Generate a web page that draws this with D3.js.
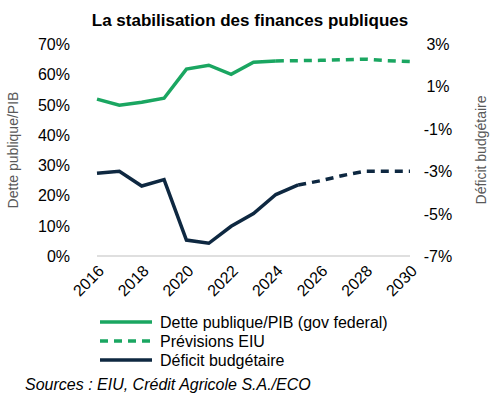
<!DOCTYPE html>
<html><head><meta charset="utf-8">
<script src="https://cdn.jsdelivr.net/npm/d3@7"></script>
<style>body{margin:0;background:#fff;font-family:Arial,"Liberation Sans",sans-serif}</style>
</head><body><svg id="c" width="500" height="407"></svg>
<script>
const years = [2016,2017,2018,2019,2020,2021,2022,2023,2024,2025,2026,2027,2028,2029,2030];
const debt = [51.8,49.8,50.8,52.1,61.7,63.0,60.0,64.0,64.4];
const debtYears = years.slice(0, 9);
const debtEiu = [64.4,64.5,64.6,64.8,65.0,64.5,64.2];
const debtEiuYears = years.slice(8);
const deficit = [-3.1,-3.0,-3.7,-3.4,-6.25,-6.4,-5.6,-5.0,-4.1,-3.65];
const deficitYears = years.slice(0, 10);
const deficitEiu = [-3.65,-3.45,-3.2,-3.0,-3.0,-3.0];
const deficitEiuYears = years.slice(9);
const leftTicks = [0,10,20,30,40,50,60,70];
const rightTicks = [3,1,-1,-3,-5,-7];
const xTicks = [2016,2018,2020,2022,2024,2026,2028,2030];

const svg = d3.select('#c');
const green = '#1aa661', navy = '#0e2841';
const x = d3.scaleLinear().domain([2016,2030]).range([97,410]);
const yL = d3.scaleLinear().domain([0,70]).range([256,44]);
const yR = d3.scaleLinear().domain([-7,3]).range([256,44]);

svg.append('text').attr('x',250).attr('y',26).attr('text-anchor','middle')
  .attr('font-size',17).attr('font-weight','bold').text('La stabilisation des finances publiques');

svg.append('line').attr('x1',x.range()[0]).attr('x2',x.range()[1]).attr('y1',256).attr('y2',256).attr('stroke','#bfbfbf');

svg.append('g').selectAll('text').data(leftTicks).join('text')
  .attr('x',70).attr('y',d=>yL(d)+6).attr('text-anchor','end').attr('font-size',16).text(d=>d+'%');
svg.append('g').selectAll('text').data(rightTicks).join('text')
  .attr('x',438).attr('y',d=>yR(d)+6).attr('text-anchor','middle').attr('font-size',16).text(d=>d+'%');
svg.append('g').selectAll('text').data(xTicks).join('text')
  .attr('transform',d=>`translate(${x(d)+8},${272}) rotate(-45)`).attr('text-anchor','end')
  .attr('font-size',16).text(d=>d);

svg.append('text').attr('transform','translate(18,150) rotate(-90)').attr('text-anchor','middle')
  .attr('font-size',14).attr('fill','#595959').text('Dette publique/PIB');
svg.append('text').attr('transform','translate(486,150) rotate(-90)').attr('text-anchor','middle')
  .attr('font-size',14).attr('fill','#595959').text('Déficit budgétaire');

function draw(xs, vs, y, color, dash) {
  svg.append('path').datum(vs.map((v,i)=>[xs[i],v]))
    .attr('d', d3.line().x(d=>x(d[0])).y(d=>y(d[1])))
    .attr('fill','none').attr('stroke',color).attr('stroke-width',3.5)
    .attr('stroke-dasharray', dash || null);
}
draw(debtYears, debt, yL, green);
draw(debtEiuYears, debtEiu, yL, green, '8,6');
draw(deficitYears, deficit, yR, navy);
draw(deficitEiuYears, deficitEiu, yR, navy, '8,6');

const legend = [
  {t:'Dette publique/PIB (gov federal)', c:green},
  {t:'Prévisions EIU', c:green, d:'8,6'},
  {t:'Déficit budgétaire', c:navy}
];
legend.forEach((l,i)=>{
  const yy = 322 + i*19;
  svg.append('line').attr('x1',100).attr('x2',152).attr('y1',yy).attr('y2',yy)
    .attr('stroke',l.c).attr('stroke-width',3.5).attr('stroke-dasharray',l.d||null);
  svg.append('text').attr('x',160).attr('y',yy+6).attr('font-size',16).text(l.t);
});
svg.append('text').attr('x',25).attr('y',390).attr('font-size',16).attr('font-style','italic')
  .text('Sources : EIU, Crédit Agricole S.A./ECO');
</script></body></html>
